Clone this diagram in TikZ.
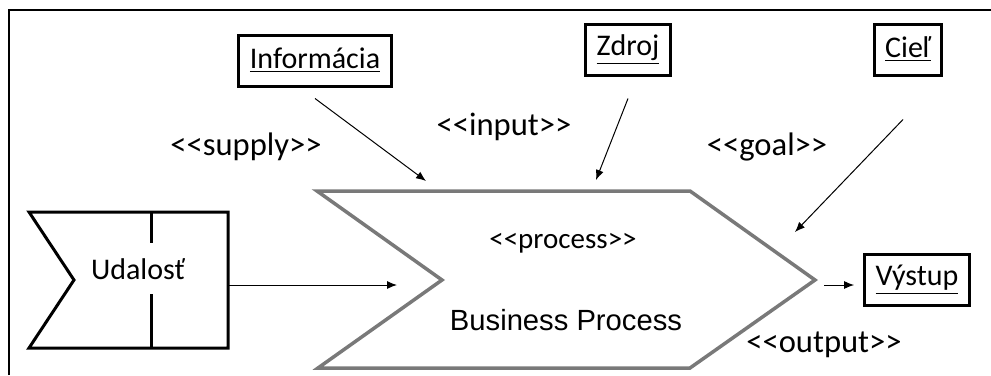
\documentclass[tikz,border=0pt]{standalone}
\usepackage{fontspec}
\setmainfont{Carlito}[Ligatures=TeXOff]
\newfontfamily\arialfont{Liberation Sans}
\usetikzlibrary{arrows.meta}

\tikzset{
	objbox/.style = {draw, line width=1.5pt, inner xsep=5.5pt, minimum height=25.5pt,
		font=\fontsize{15}{18}\selectfont},
	stereo/.style = {font=\fontsize{16.3}{19}\selectfont},
	link/.style = {-{Latex[length=5pt,width=4pt]}, line width=0.5pt},
}

\begin{document}
\begin{tikzpicture}[x=0.5pt,y=-0.5pt]
	\useasboundingbox (0,0) rectangle (991,375);
	% frame
	\draw[line width=1.4pt] (9,375) -- (9,10) -- (991,10);
	% event
	\draw[line width=1.5pt] (29,212) -- (228,212) -- (228,348) -- (29,348) -- (74,280) -- cycle;
	\draw[line width=1.5pt] (151,212) -- (151,243) (151,294) -- (151,348);
	\node[font=\fontsize{15}{18}\selectfont] (udalost) at (138,269) {Udalosť};
	% process
	\draw[gray!95!black, line width=1.75pt] (317,191) -- (690,191) -- (815,280) -- (690,368)
		-- (318,368) -- (442,280) -- cycle;
	\node[font=\fontsize{14.5}{17}\selectfont] (proc) at (563,243) {<<process>>};
	\node[font=\arialfont\fontsize{14.6}{17}\selectfont] (bp) at (566,320) {Business Process};
	% objects
	\node[objbox] (info) at (315,60.5) {\underline{Informácia}};
	\node[objbox] (zdroj) at (628,49.5) {\underline{Zdroj}};
	\node[objbox] (ciel) at (908,49.5) {\underline{Cieľ}};
	\node[objbox] (vystup) at (917,279.5) {\underline{Výstup}};
	% stereotypes
	\node[stereo] (supply) at (246,147) {<<supply>>};
	\node[stereo] (input) at (504,127) {<<input>>};
	\node[stereo] (goal) at (767,147) {<<goal>>};
	\node[stereo] (output) at (824,345) {<<output>>};
	% links
	\coordinate (infoIn) at (426,181);
	\coordinate (zdrojIn) at (596,180);
	\coordinate (cielIn) at (795,232);
	\coordinate (evOut) at (228,285);
	\coordinate (procIn) at (397,285);
	\coordinate (procOut) at (824,285);
	\draw[link] ([yshift=-5.5pt]info.south) -- (infoIn);
	\draw[link] ([yshift=-11pt]zdroj.south) -- (zdrojIn);
	\draw[link] ([xshift=-2.5pt,yshift=-21.5pt]ciel.south) -- (cielIn);
	\draw[link] (evOut) -- (procIn);
	\draw[link, shorten >=4.5pt] (procOut) -- (vystup.west |- procOut);
\end{tikzpicture}
\end{document}
